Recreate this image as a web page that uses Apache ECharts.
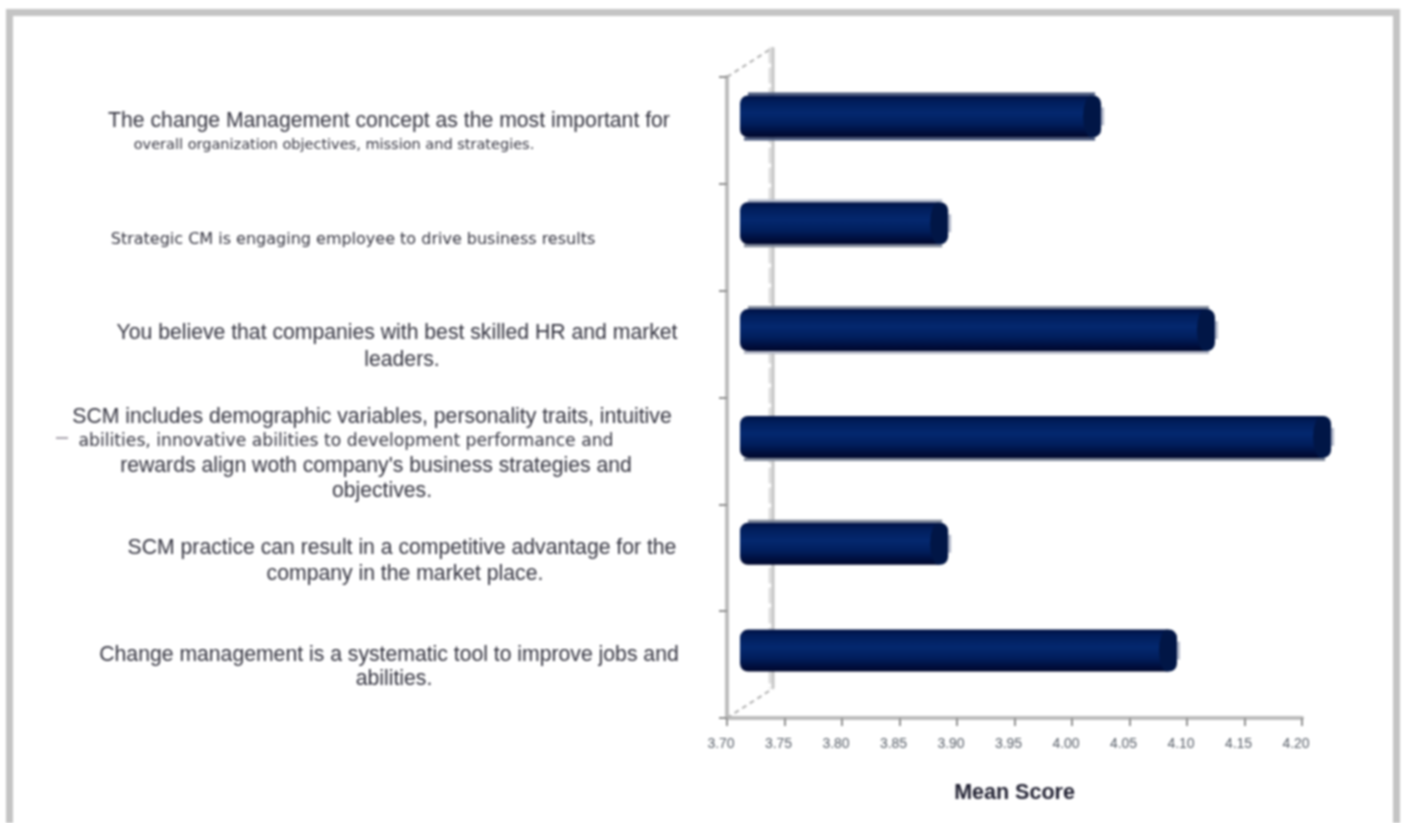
<!DOCTYPE html>
<html>
<head>
<meta charset="utf-8">
<style>
html,body{margin:0;padding:0;background:#fff;overflow:hidden}
#chart{width:1403px;height:823px;filter:blur(0.8px)}
</style>
<script src="https://cdn.jsdelivr.net/npm/echarts@6/dist/echarts.min.js"></script>
</head>
<body>
<div id="chart"></div>
<script>
var categoryLines = [
  ["The change Management concept as the most important for", "overall organization objectives, mission and strategies."],
  ["Strategic CM is engaging employee to drive business results"],
  ["You believe that companies with best skilled HR and market", "leaders."],
  ["SCM includes demographic variables, personality traits, intuitive", "abilities, innovative abilities to development performance and", "rewards align woth company's business strategies and", "objectives."],
  ["SCM practice can result in a competitive advantage for the", "company in the market place."],
  ["Change management is a systematic tool to improve jobs and", "abilities."]
];
var categories = categoryLines.map(function (l) { return l.join(" "); });
var meanScores = [4.014, 3.881, 4.113, 4.214, 3.881, 4.08];
var axisMin = 3.70;
var axisMax = 4.20;
var axisStep = 0.05;
var axisTitle = "Mean Score";

// Per-line presentation: rich style name and horizontal shift from the label centre.
var lineLook = [
  [["big", -1], ["tiny", -56]],
  [["small", -37]],
  [["big", 7], ["big", 12]],
  [["big", -18], ["mid", -44], ["big", -14], ["big", -8]],
  [["big", 12], ["big", 15]],
  [["big", -1], ["big", 4]]
];
var fontStyles = {
  big: { size: 21.2, family: "Liberation Sans" },
  mid: { size: 17.2, family: "DejaVu Sans" },
  small: { size: 16, family: "DejaVu Sans" },
  tiny: { size: 14.5, family: "DejaVu Sans" }
};
var lineHeights = [24, 24, 27, 24.6, 26, 24];
var edgeTop = ["#45557a", "#b5bccc", "#7f8899", null, "#7f8899", null];
var edgeBottom = ["#45557a", "#7f8899", "#b5b9c6", "#7f8899", null, null];
var DEPTH_X = 13, DEPTH_Y = -14, BAR_H = 42;

function labelFormatter(value, index) {
  return categoryLines[index].map(function (text, i) {
    return "{" + lineLook[index][i][0] + "_" + index + "_" + i + "|" + text + "}";
  }).join("\n");
}
var rich = {};
lineLook.forEach(function (lines, c) {
  lines.forEach(function (look, i) {
    var s = look[1], f = fontStyles[look[0]];
    rich[look[0] + "_" + c + "_" + i] = {
      fontFamily: f.family,
      fontSize: f.size,
      color: "#33333f",
      lineHeight: lineHeights[c],
      padding: s >= 0 ? [0, 0, 0, 2 * s] : [0, -2 * s, 0, 0]
    };
  });
});

function renderBar(params, api) {
  var value = api.value(0);
  var cat = api.value(1);
  var start = api.coord([axisMin, cat]);
  var end = api.coord([value, cat]);
  var x0 = start[0] + DEPTH_X, x1 = end[0] + DEPTH_X, cy = start[1] + DEPTH_Y;
  var top = cy - BAR_H / 2, rx = 8, ry = BAR_H / 2;
  var body = new echarts.graphic.LinearGradient(0, 0, 0, 1, [
    { offset: 0, color: "#001245" },
    { offset: 0.15, color: "#011e5c" },
    { offset: 0.42, color: "#04286f" },
    { offset: 0.68, color: "#011e5c" },
    { offset: 0.9, color: "#000d3a" },
    { offset: 1, color: "#00082c" }
  ]);
  var capPath = "M0 " + ry + "A" + rx + " " + ry + " 0 1 1 " + (2 * rx) + " " + ry + "A" + rx + " " + ry + " 0 1 1 0 " + ry + "Z";
  var kids = [];
  if (edgeTop[cat]) kids.push({ type: "rect", shape: { x: x0 + 8, y: top - 3, width: x1 - x0 - 14, height: 3 }, style: { fill: edgeTop[cat] } });
  if (edgeBottom[cat]) kids.push({ type: "rect", shape: { x: x0 + 4, y: top + BAR_H, width: x1 - x0 - 10, height: 3 }, style: { fill: edgeBottom[cat] } });
  kids.push(
    { type: "rect", shape: { x: x1 - 2, y: cy - 9, width: 5, height: 18 }, style: { fill: "#b4bacb" } },
    { type: "rect", shape: { x: x0, y: top, width: x1 - x0 - 10, height: BAR_H, r: [8, 0, 0, 8] }, style: { fill: body } },
    { type: "rect", shape: { x: x1 - 10, y: top, width: 10, height: BAR_H, r: [0, 8, 8, 0] }, style: { fill: "#011646" } },
    { type: "path", shape: { pathData: capPath, x: x1 - 18, y: top, width: 2 * rx, height: BAR_H, layout: "cover" }, style: { fill: "#011646" } }
  );
  return { type: "group", children: kids };
}

function renderWalls(params, api) {
  var band = api.size([0, 1])[1];
  var tl = api.coord([axisMin, 0]); tl = [tl[0], tl[1] - band / 2];
  var bl = api.coord([axisMin, 5]); bl = [bl[0], bl[1] + band / 2];
  var dx = 46, dy = -29.5;
  return {
    type: "group",
    silent: true,
    children: [
      { type: "line", shape: { x1: tl[0] + dx - 3, y1: tl[1] + dy, x2: bl[0] + dx - 3, y2: bl[1] + dy }, style: { stroke: "#dedede", lineWidth: 3, lineDash: [16, 4] } },
      { type: "line", shape: { x1: tl[0] + dx, y1: tl[1] + dy, x2: bl[0] + dx, y2: bl[1] + dy }, style: { stroke: "#c4c4c4", lineWidth: 3 } },
      { type: "line", shape: { x1: tl[0], y1: tl[1], x2: tl[0] + dx, y2: tl[1] + dy }, style: { stroke: "#b0b0b0", lineWidth: 2, lineDash: [5, 4] } },
      { type: "line", shape: { x1: bl[0], y1: bl[1], x2: bl[0] + dx, y2: bl[1] + dy }, style: { stroke: "#b0b0b0", lineWidth: 2, lineDash: [5, 4] } }
    ]
  };
}

var chart = echarts.init(document.getElementById("chart"));
chart.setOption({
  animation: false,
  backgroundColor: "#fff",
  grid: { left: 727, width: 575, top: 77, height: 641, containLabel: false },
  xAxis: {
    type: "value",
    min: axisMin, max: axisMax, interval: axisStep,
    name: axisTitle, nameLocation: "middle", nameGap: 64,
    nameTextStyle: { fontFamily: "Liberation Sans", fontSize: 21.5, fontWeight: "bold", color: "#222233" },
    axisLine: { show: true, lineStyle: { color: "#bdbdbd", width: 4 } },
    axisTick: { show: true, length: 8, lineStyle: { color: "#8f8f8f", width: 2 } },
    axisLabel: { margin: 19, fontFamily: "Liberation Sans", fontSize: 14, color: "#555c66", padding: [0, 12, 0, 0],
      formatter: function (v) { return v.toFixed(2); } },
    splitLine: { show: false }
  },
  yAxis: {
    type: "category",
    inverse: true,
    data: categories,
    axisLine: { show: true, lineStyle: { color: "#bdbdbd", width: 4 } },
    axisTick: { show: true, length: 8, lineStyle: { color: "#8f8f8f", width: 2 } },
    axisLabel: { interval: 0, align: "center", margin: 337, padding: [6, 0, 0, 0], formatter: labelFormatter, rich: rich },
    splitLine: { show: false }
  },
  series: [
    { type: "custom", name: "walls", renderItem: renderWalls, data: [[axisMin, 0]], z: 1, clip: false, silent: true,
      encode: { x: 0, y: 1 } },
    { type: "custom", name: axisTitle, renderItem: renderBar, clip: false, z: 3,
      data: meanScores.map(function (v, i) { return [v, i]; }),
      encode: { x: 0, y: 1 } }
  ],
  graphic: [
    { type: "polyline", silent: true, z: 5, shape: { points: [[9.5, 823], [9.5, 12.5], [1396.5, 12.5], [1396.5, 823]] },
      style: { stroke: "#c4c4c4", fill: null, lineWidth: 7 } },
    { type: "line", silent: true, shape: { x1: 56, y1: 438, x2: 68, y2: 438 }, style: { stroke: "#a9a4ae", lineWidth: 2 } }
  ]
});
</script>
</body>
</html>
